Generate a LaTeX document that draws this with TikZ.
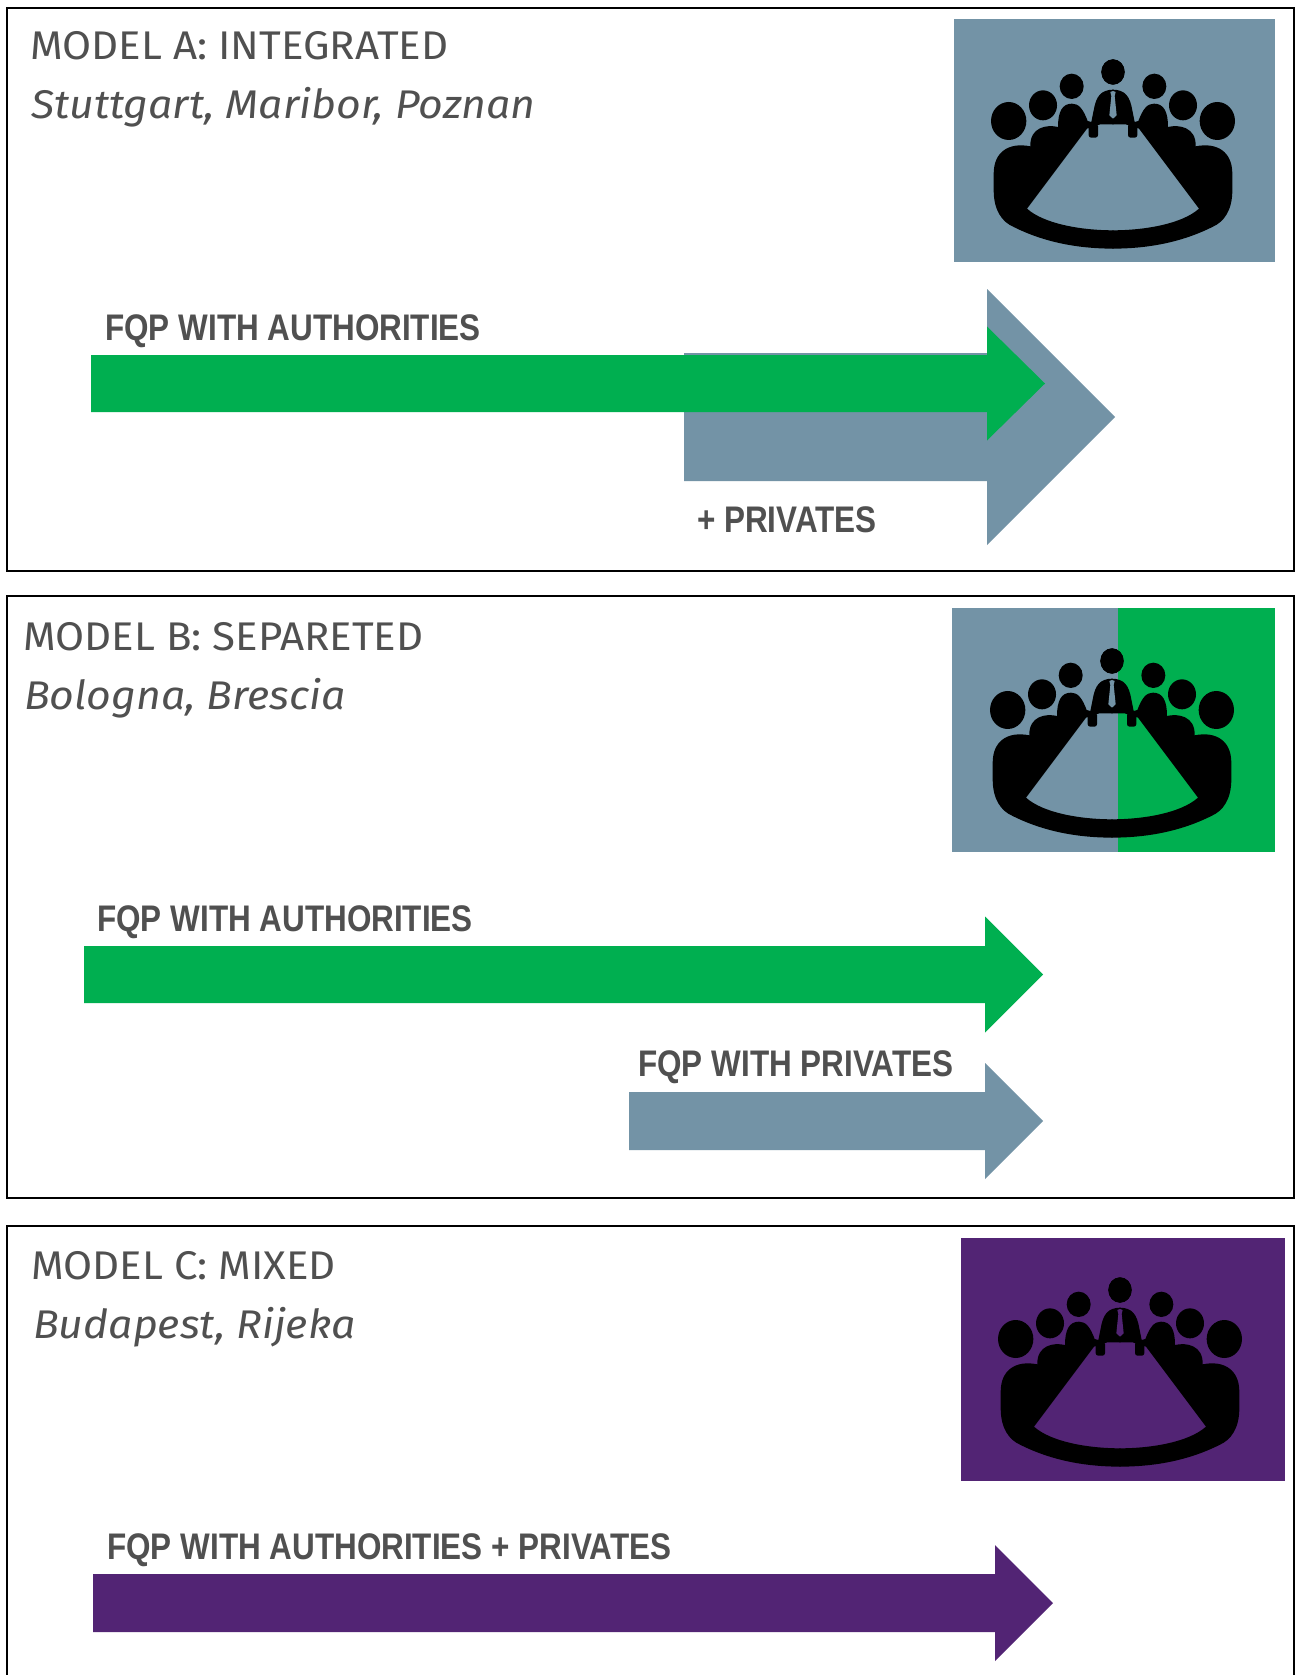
\documentclass[tikz,border=0pt]{standalone}
\usepackage{fontspec}
\setmainfont{Fira Sans}
\newfontfamily\modelfont[FakeStretch=1.05]{Fira Sans}
\newfontfamily\citiesfont[FakeStretch=1.07]{Fira Sans}
\newfontfamily\labelfont[FakeStretch=0.85]{Liberation Sans}
\definecolor{slate}{HTML}{7393A6}
\definecolor{fqpgreen}{HTML}{00AF50}
\definecolor{fqppurple}{HTML}{522474}
\definecolor{inkgrey}{HTML}{505050}
% colour, start, neck, tip, middle, half shaft, half head
\newcommand{\fqparrow}[7]{
  \fill[#1] (#2,#5-#6) -- (#3,#5-#6) -- (#3,#5-#7) -- (#4,#5)
    -- (#3,#5+#7) -- (#3,#5+#6) -- (#2,#5+#6) -- cycle;
}
\begin{document}
\begin{tikzpicture}[
      x=1pt, y=-1pt,
      panel/.style={draw=black, line width=1.6pt},
      model/.style={anchor=base west, inner sep=0pt, text=inkgrey, font=\modelfont\fontsize{40}{40}\selectfont},
      cities/.style={anchor=base west, inner sep=0pt, text=inkgrey, font=\citiesfont\itshape\fontsize{40}{40}\selectfont},
      flow/.style={anchor=base west, inner sep=0pt, text=inkgrey, font=\labelfont\bfseries\fontsize{37}{37}\selectfont},
      pics/meeting/.style={code={
        \begin{scope}[scale=0.3333]
          \foreach \flip in {1,-1} {
            \begin{scope}[xscale=\flip, shift={(-548,-56)}]
              \fill (548,215) ellipse (35 and 38);
              \fill (424,258) ellipse (36 and 38);
              \fill (338,315) ellipse (42 and 45);
              \fill (235,362) ellipse (53 and 57);
              \fill (550,268) .. controls (510,268) and (497,290) .. (490,330)
                -- (483,365) -- (472,362)
                .. controls (458,325) and (445,310) .. (425,310)
                .. controls (395,310) and (383,335) .. (383,380)
                .. controls (350,372) and (298,380) .. (300,438)
                .. controls (235,425) and (190,455) .. (190,520)
                -- (190,570) .. controls (190,630) and (215,665) .. (250,680)
                .. controls (340,725) and (440,745) .. (550,745)
                -- (550,690) .. controls (450,690) and (340,670) .. (290,625)
                -- (470,385) -- (510,372) -- (550,372) -- cycle;
              \fill[rounded corners=2.5pt] (475,370) rectangle (503,412);
            \end{scope}
          }
          \fill[#1] (0,216) -- (-8,219) -- (-5,231) -- (-11,289) -- (0,299)
            -- (11,289) -- (5,231) -- (8,219) -- cycle;
        \end{scope}
      }},
  ]
    \useasboundingbox (0,0) rectangle (1295,1675);
    \fill[white] (0,0) rectangle (1295,1675);

    % model A
    \draw[panel] (7,8) rectangle (1294,571);
    \fill[slate] (954,19) rectangle (1275,262);
    \pic at (1113,19) {meeting=slate};
    \node[model] (titlea) at (30,60) {MODEL A: INTEGRATED};
    \node[cities] (citiesa) at (31,118) {Stuttgart, Maribor, Poznan};
    \fqparrow{slate}{684}{987}{1115}{417}{64}{128}
    \fqparrow{fqpgreen}{91}{987}{1045}{383.5}{28.5}{57}
    \node[flow] (autha) at (105,340) {FQP WITH AUTHORITIES};
    \node[flow] (priva) at (697,532) {+ PRIVATES};

    % model B
    \draw[panel] (7,596) rectangle (1294,1198);
    \fill[slate] (952,608) rectangle (1118,852);
    \fill[fqpgreen] (1118,608) rectangle (1275,852);
    \pic at (1112,608) {meeting=slate};
    \node[model] (titleb) at (23,650) {MODEL B: SEPARETED};
    \node[cities] (citiesb) at (24,709) {Bologna, Brescia};
    \fqparrow{fqpgreen}{84}{985}{1043}{974.5}{28.5}{58}
    \fqparrow{slate}{629}{985}{1043}{1121}{29}{58}
    \node[flow] (authb) at (97,931) {FQP WITH AUTHORITIES};
    \node[flow] (privb) at (638,1076) {FQP WITH PRIVATES};

    % model C, runs off the bottom
    \draw[panel] (7,1690) -- (7,1226) -- (1294,1226) -- (1294,1690);
    \fill[fqppurple] (961,1238) rectangle (1285,1481);
    \pic at (1120,1237) {meeting=fqppurple};
    \node[model] (titlec) at (31,1279) {MODEL C: MIXED};
    \node[cities] (citiesc) at (33,1338) {Budapest, Rijeka};
    \fqparrow{fqppurple}{93}{995}{1053}{1603}{29}{58}
    \node[flow] (authc) at (107,1559) {FQP WITH AUTHORITIES + PRIVATES};
  \end{tikzpicture}
\end{document}
